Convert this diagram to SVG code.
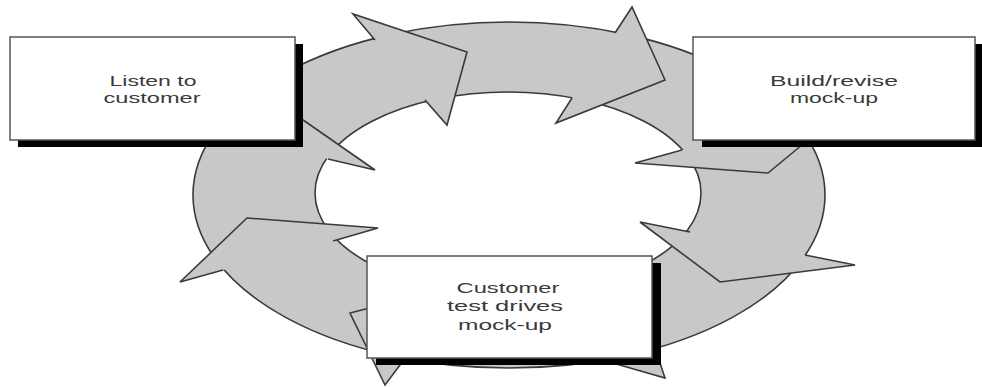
<svg xmlns="http://www.w3.org/2000/svg" width="982" height="387" viewBox="0 0 982 387">
  <style>
    .ring { fill: #c8c8c8; stroke: #3a3a3a; stroke-width: 1.6; fill-rule: evenodd; }
    .ah { fill: #c8c8c8; stroke: #3a3a3a; stroke-width: 1.6; stroke-linejoin: miter; }
    .shadow { fill: #000; }
    .box { fill: #fff; stroke: #555; stroke-width: 1.5; }
    .lbl { font-family: "Liberation Sans", Arial, sans-serif; font-size: 15px; fill: #3a3a3a; text-anchor: middle; }
  </style>
  <rect width="982" height="387" fill="#fff"/>
  <g id="connectors">
    <path class="ring" d="M193,195 A316,173 0 1,0 825,195 A316,173 0 1,0 193,195 Z M315,193 A193,101 0 1,0 701,193 A193,101 0 1,0 315,193 Z"/>
    <path class="ah" d="M375,40 L353,14 L467,52 L447,125 L425,100"/>
    <path class="ah" d="M615,33 L632,7 L665,80 L556,123 L572,98"/>
    <path class="ah" d="M793,119 L854,102 L768,173 L635,163 L682,150"/>
    <path class="ah" d="M805,255 L855,265 L720,282 L640,222 L690,232"/>
    <path class="ah" d="M655,348 L665,378 L540,342 L628,262 L631,271"/>
    <path class="ah" d="M403,361 L385,385 L350,313 L460,285 L455,291"/>
    <path class="ah" d="M223,270 L180,282 L247,218 L378,228 L333,241"/>
    <path class="ah" d="M215,132 L200,128 L270,97 L375,170 L328,159"/>
  </g>
  <g id="listen">
    <rect class="shadow" x="18" y="44" width="285" height="103"/>
    <rect class="box" x="10" y="37" width="285" height="103"/>
    <text class="lbl" x="153" y="86" textLength="87" lengthAdjust="spacingAndGlyphs">Listen to</text>
    <text class="lbl" x="152" y="103" textLength="97" lengthAdjust="spacingAndGlyphs">customer</text>
  </g>
  <g id="build">
    <rect class="shadow" x="702" y="44" width="282" height="103"/>
    <rect class="box" x="693" y="37" width="282" height="103"/>
    <text class="lbl" x="834" y="86" textLength="128" lengthAdjust="spacingAndGlyphs">Build/revise</text>
    <text class="lbl" x="834" y="103" textLength="88" lengthAdjust="spacingAndGlyphs">mock-up</text>
  </g>
  <g id="test">
    <rect class="shadow" x="376" y="263" width="285" height="102"/>
    <rect class="box" x="367" y="256" width="285" height="102"/>
    <text class="lbl" x="508" y="293" textLength="103" lengthAdjust="spacingAndGlyphs">Customer</text>
    <text class="lbl" x="505" y="311" textLength="116" lengthAdjust="spacingAndGlyphs">test drives</text>
    <text class="lbl" x="505" y="330" textLength="94" lengthAdjust="spacingAndGlyphs">mock-up</text>
  </g>
</svg>
